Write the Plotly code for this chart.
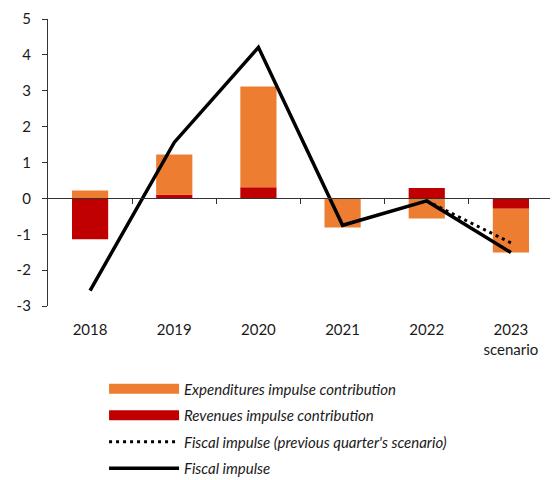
import plotly.graph_objects as go

years = ["2018", "2019", "2020", "2021", "2022", "2023<br>scenario"]
expenditures = [0.22, 1.12, 2.81, -0.81, -0.56, -1.22]
revenues = [-1.14, 0.10, 0.31, 0.0, 0.29, -0.29]
fiscal_impulse = [-2.57, 1.56, 4.21, -0.75, -0.07, -1.51]
prev_years = ["2022", "2023<br>scenario"]
prev_impulse = [-0.07, -1.24]
y_ticks = [-3, -2, -1, 0, 1, 2, 3, 4, 5]
y_tick_labels = ["-3", "-2", "-1", "0", "1", "2", "3", "4", "5"]

ORANGE = "#ED7D31"
RED = "#C00000"
FONT = "Lato"

fig = go.Figure()
fig.add_trace(go.Bar(x=years, y=revenues, name="Revenues impulse contribution",
                     marker=dict(color=RED, line=dict(width=0)), width=0.43, showlegend=False))
fig.add_trace(go.Bar(x=years, y=expenditures, name="Expenditures impulse contribution",
                     marker=dict(color=ORANGE, line=dict(width=0)), width=0.43, showlegend=False))
fig.add_trace(go.Scatter(x=prev_years, y=prev_impulse, mode="lines",
                         name="Fiscal impulse (previous quarter's scenario)",
                         line=dict(color="black", width=3, dash="3px,4px"),
                         legendrank=3, legendgroup="c"))
fig.add_trace(go.Scatter(x=years, y=fiscal_impulse, mode="lines", name="Fiscal impulse",
                         line=dict(color="black", width=3.5), legendrank=4, legendgroup="d"))
# legend swatches for the bar series (wide rectangles)
fig.add_trace(go.Scatter(x=[None], y=[None], mode="lines", name="Expenditures impulse contribution",
                         line=dict(color=ORANGE, width=14), legendrank=1, legendgroup="a"))
fig.add_trace(go.Scatter(x=[None], y=[None], mode="lines", name="Revenues impulse contribution",
                         line=dict(color=RED, width=14), legendrank=2, legendgroup="b"))
# invisible helper for the zero-line axis with ticks between categories
fig.add_trace(go.Scatter(x=[-0.5, 5.5], y=[0, 0], xaxis="x2", mode="lines",
                         line=dict(width=0), showlegend=False, hoverinfo="skip"))

fig.update_layout(
    width=550, height=472,
    margin=dict(l=40, r=5, t=11, b=174, autoexpand=False),
    paper_bgcolor="white", plot_bgcolor="white",
    barmode="relative", bargap=0.57,
    font=dict(family=FONT, size=15, color="#1a1a1a"),
    xaxis=dict(type="category", range=[-0.5, 5.5], showline=False, showgrid=False,
               zeroline=False, ticks="outside", ticklen=10, tickcolor="rgba(0,0,0,0)",
               tickfont=dict(size=15), automargin=False),
    xaxis2=dict(overlaying="x", anchor="free", position=0.375, range=[-0.5, 5.5],
                showline=True, linecolor="#333333", linewidth=1.2,
                tickvals=[0.5, 1.5, 2.5, 3.5, 4.5, 5.5], ticks="outside", ticklen=5,
                tickcolor="#333333", showticklabels=False, showgrid=False, zeroline=False),
    yaxis=dict(range=[-3, 5], tickvals=y_ticks, ticktext=y_tick_labels,
               showline=True, linecolor="#333333", linewidth=1.2,
               ticks="outside", ticklen=5, tickcolor="#333333", showgrid=False,
               zeroline=False, tickfont=dict(size=15), automargin=False,
               ticklabelstandoff=8),
    legend=dict(x=0.111, xanchor="left", y=-0.232, yanchor="top",
                font=dict(size=15, family=FONT, style="italic"),
                itemwidth=70, tracegroupgap=4, traceorder="grouped",
                bgcolor="rgba(0,0,0,0)"),
    showlegend=True,
)

fig.write_html("out.html")
